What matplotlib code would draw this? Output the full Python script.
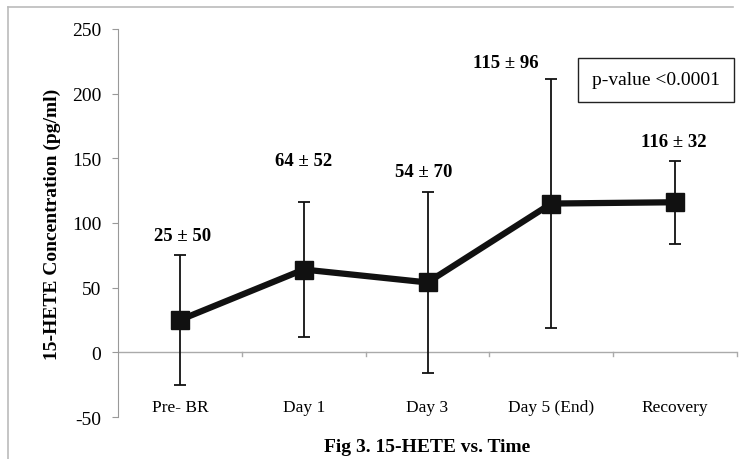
import numpy as np
from matplotlib import pyplot as plt
from matplotlib.lines import Line2D

categories = ["Pre- BR", "Day 1", "Day 3", "Day 5 (End)", "Recovery"]
means = [25, 64, 54, 115, 116]
sds = [50, 52, 70, 96, 32]
labels = ["25 \u00b1 50", "64 \u00b1 52", "54 \u00b1 70", "115 \u00b1 96", "116 \u00b1 32"]
label_x = [0.02, 0.0, -0.03, -0.37, -0.01]   # offset from category centre
label_y = [90, 148, 140, 224, 163]

plt.rcParams['font.family'] = ['Liberation Serif', 'DejaVu Serif']
plt.rcParams['axes.unicode_minus'] = False

fig = plt.figure(figsize=(7.52, 4.6), dpi=100)
ax = fig.add_axes([0.157, 0.0913, 0.823, 0.8437])

x = np.arange(len(categories))
ax.errorbar(x, means, yerr=sds, fmt='none', ecolor='#111111', elinewidth=1.3,
            capsize=4, capthick=1.3, zorder=2)
ax.plot(x, means, '-s', color='#111111', lw=4.5, ms=13, zorder=3)

for xi, dx, lab, ly in zip(x, label_x, labels, label_y):
    ax.text(xi + dx, ly, lab, ha='center', va='center', fontsize=13.5, fontweight='bold')

ax.set_xlim(-0.5, len(categories) - 0.5)
ax.set_ylim(-50, 250)
ax.set_yticks(np.arange(-50, 251, 50))
ax.tick_params(axis='y', labelsize=14, color='#999999', length=4, pad=8)

# x axis drawn at y = 0 with ticks between categories
ax.set_xticks([])
ax.axhline(0, color='#aaaaaa', lw=1, zorder=1)
for b in np.arange(0.5, len(categories), 1.0):
    ax.plot([b, b], [0, -3], color='#aaaaaa', lw=1, clip_on=False)
for xi, c in zip(x, categories):
    ax.text(xi, -42, c, ha='center', va='center', fontsize=12.5)

for s in ['top', 'right', 'bottom']:
    ax.spines[s].set_visible(False)
ax.spines['left'].set_color('#999999')

ax.set_ylabel("15-HETE Concentration (pg/ml)", fontsize=14, fontweight='bold', labelpad=8)

fig.text(0.568, 0.028, "Fig 3. 15-HETE vs. Time", ha='center', va='center',
         fontsize=14, fontweight='bold')

fig.text(0.8723, 0.824, "p-value <0.0001", ha='center', va='center', fontsize=14,
         bbox=dict(boxstyle='square,pad=0.7', fc='white', ec='#222222', lw=1))

fig.add_artist(Line2D([0.011, 0.011], [0.0, 0.983], color='#bbbbbb', lw=1.2))
fig.add_artist(Line2D([0.011, 0.975], [0.983, 0.983], color='#bbbbbb', lw=1.2))

fig.savefig("out.png", dpi=100)
